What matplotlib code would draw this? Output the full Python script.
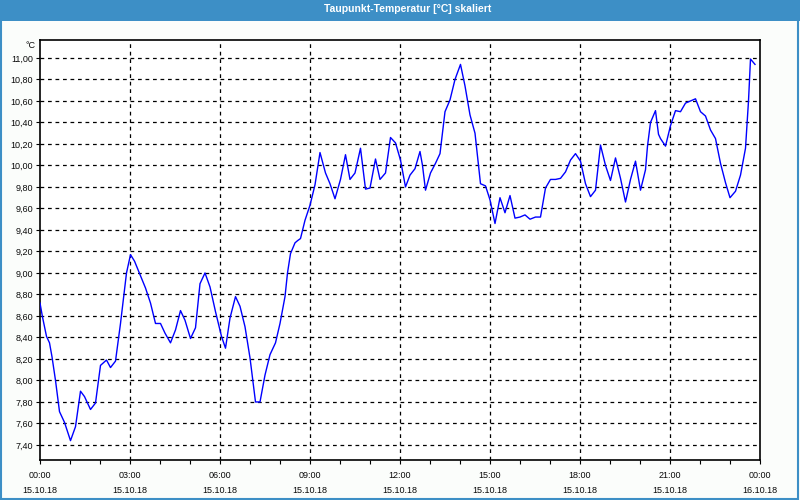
import matplotlib
matplotlib.use("Agg")
import matplotlib.pyplot as plt
from matplotlib.patches import Rectangle
from matplotlib.ticker import FixedLocator, MultipleLocator

plt.rcParams['font.family'] = ['Liberation Sans', 'DejaVu Sans']

title = "Taupunkt-Temperatur [°C] skaliert"
unit = "°C"

# minutes since 15.10.18 00:00
minutes = [0, 5, 13, 19, 24, 31, 39, 49, 61, 71, 81, 89, 101, 111, 121, 133, 141, 151, 161, 173,
           181, 189, 211, 221, 231, 241, 250, 261, 271, 281, 290, 301, 311, 320, 330, 340, 351,
           363, 371, 380, 391, 400, 410, 420, 431, 440, 450, 460, 471, 480, 490, 495, 501, 510,
           515, 521, 530, 540, 550, 560, 571, 580, 590, 601, 611, 620, 630, 641, 651, 660, 671,
           680, 691, 701, 711, 721, 731, 740, 750, 760, 765, 771, 781, 791, 800, 810, 820, 830,
           841, 850, 860, 870, 881, 891, 900, 910, 920, 930, 940, 950, 960, 970, 980, 991, 1001,
           1011, 1021, 1031, 1041, 1051, 1061, 1071, 1081, 1091, 1101, 1111, 1121, 1131, 1141,
           1151, 1161, 1171, 1181, 1191, 1201, 1211, 1215, 1221, 1231, 1237, 1241, 1251, 1261,
           1271, 1281, 1291, 1301, 1311, 1321, 1331, 1341, 1351, 1361, 1371, 1380, 1391, 1401,
           1411, 1417, 1421, 1430]
values = [8.72, 8.59, 8.41, 8.35, 8.22, 8.00, 7.71, 7.61, 7.44, 7.57, 7.90, 7.85, 7.73, 7.79, 8.14,
          8.19, 8.12, 8.18, 8.53, 9.00, 9.17, 9.11, 8.86, 8.72, 8.53, 8.53, 8.44, 8.35, 8.47, 8.65,
          8.56, 8.39, 8.49, 8.90, 9.00, 8.87, 8.64, 8.41, 8.30, 8.58, 8.78, 8.69, 8.50, 8.21, 7.80,
          7.80, 8.05, 8.24, 8.35, 8.53, 8.78, 9.00, 9.18, 9.28, 9.30, 9.32, 9.49, 9.63, 9.82, 10.12,
          9.93, 9.83, 9.69, 9.87, 10.10, 9.87, 9.93, 10.16, 9.78, 9.79, 10.06, 9.87, 9.93, 10.26,
          10.21, 10.05, 9.80, 9.91, 9.97, 10.13, 10.00, 9.77, 9.93, 10.02, 10.11, 10.50, 10.61,
          10.80, 10.94, 10.74, 10.47, 10.30, 9.83, 9.81, 9.68, 9.46, 9.70, 9.56, 9.72, 9.51, 9.52,
          9.54, 9.50, 9.52, 9.52, 9.79, 9.87, 9.87, 9.88, 9.94, 10.05, 10.11, 10.04, 9.83, 9.71,
          9.77, 10.19, 10.00, 9.86, 10.07, 9.88, 9.66, 9.87, 10.04, 9.77, 9.96, 10.18, 10.40, 10.51,
          10.29, 10.25, 10.18, 10.37, 10.51, 10.50, 10.58, 10.60, 10.62, 10.50, 10.46, 10.33, 10.25,
          10.02, 9.84, 9.70, 9.76, 9.91, 10.16, 10.60, 10.99, 10.94]

x_tick_hours = [0, 3, 6, 9, 12, 15, 18, 21, 24]
x_tick_labels = ["00:00\n15.10.18", "03:00\n15.10.18", "06:00\n15.10.18", "09:00\n15.10.18",
                 "12:00\n15.10.18", "15:00\n15.10.18", "18:00\n15.10.18", "21:00\n15.10.18",
                 "00:00\n16.10.18"]
y_ticks = [7.40, 7.60, 7.80, 8.00, 8.20, 8.40, 8.60, 8.80, 9.00, 9.20, 9.40, 9.60, 9.80,
           10.00, 10.20, 10.40, 10.60, 10.80, 11.00]

W, H = 800, 500
fig = plt.figure(figsize=(8, 5), dpi=100)
bg = "#fbfdfb"
fig.patch.set_facecolor(bg)

# title bar and window frame
fig.patches.append(Rectangle((0, 1 - 21 / H), 1, 21 / H, transform=fig.transFigure,
                             facecolor="#3d8fc6", edgecolor="none", zorder=0))
fig.patches.append(Rectangle((0.5 / W, 1.5 / H), (W - 3) / W, (H - 2) / H, transform=fig.transFigure,
                             facecolor="none", edgecolor="#3d8fc6", linewidth=1.5, zorder=1))
fig.text(408 / W, 1 - 9 / H, title, ha="center", va="center", color="white",
         fontsize=7.5, fontweight="bold")

ax = fig.add_axes([40 / W, 40 / H, 720 / W, 420 / H])
ax.set_facecolor("white")
hours = [m / 60 for m in minutes]
ax.plot(hours, values, color="#0000ff", linewidth=1.0, zorder=3)

ax.set_xlim(0, 24)
ax.set_ylim(7.26, 11.167)

ax.xaxis.set_major_locator(FixedLocator(x_tick_hours))
ax.set_xticklabels(x_tick_labels)
ax.xaxis.set_minor_locator(MultipleLocator(1))
ax.yaxis.set_major_locator(FixedLocator(y_ticks))
ax.set_yticklabels([f"{v:.2f}".replace(".", ",") for v in y_ticks])

ax.tick_params(axis="both", which="major", length=3, width=0.8, color="black",
               labelsize=6.5, labelcolor="#0a0a0a", pad=2)
ax.tick_params(axis="x", which="minor", length=3, width=0.8, color="black")
ax.tick_params(axis="x", which="major", pad=5)
for lbl in ax.get_xticklabels():
    lbl.set_linespacing(1.9)

for h in x_tick_hours[1:-1]:
    ax.axvline(h, color="black", linestyle=(0, (3, 3)), linewidth=0.9, zorder=2)
for v in y_ticks:
    ax.axhline(v, color="black", linestyle=(0, (3, 3)), linewidth=0.9, zorder=2)

for s in ax.spines.values():
    s.set_linewidth(1.2)
    s.set_color("black")

fig.text(36 / W, 1 - 45 / H, unit, ha="right", va="center", fontsize=6.5, color="#0a0a0a")

fig.savefig("out.png", dpi=100, facecolor=bg)
